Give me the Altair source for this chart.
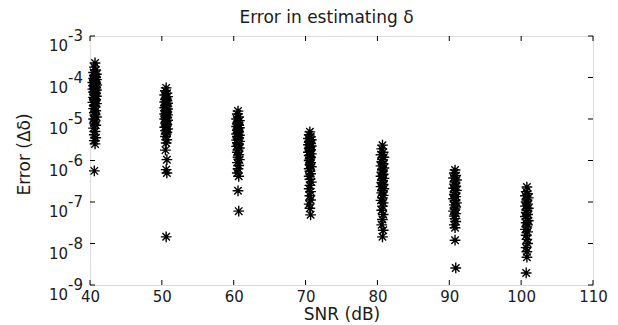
import altair as alt
import pandas as pd

# (SNR position, log10 of error)
points_40 = [(40.7,-3.65),(40.6,-3.75),(40.8,-3.82),(40.5,-3.88),(40.9,-3.92),(40.6,-3.95),(40.7,-3.98),(40.8,-4.00),(40.5,-4.02),(40.9,-4.05),(40.6,-4.07),(40.7,-4.10),(40.4,-4.12),(40.8,-4.14),(40.6,-4.16),(40.9,-4.18),(40.5,-4.20),(40.7,-4.22),(40.8,-4.24),(40.6,-4.26),(40.4,-4.28),(40.9,-4.30),(40.7,-4.32),(40.5,-4.35),(40.8,-4.38),(40.6,-4.40),(40.7,-4.42),(40.9,-4.45),(40.5,-4.48),(40.6,-4.50),(40.8,-4.53),(40.7,-4.56),(40.4,-4.60),(40.9,-4.63),(40.6,-4.67),(40.7,-4.70),(40.5,-4.75),(40.8,-4.80),(40.6,-4.85),(40.7,-4.90),(40.9,-4.95),(40.5,-5.00),(40.7,-5.05),(40.6,-5.10),(40.8,-5.15),(40.5,-5.22),(40.7,-5.30),(40.6,-5.38),(40.8,-5.45),(40.6,-5.52),(40.7,-5.60),(40.6,-6.25)]
points_50 = [(50.6,-4.25),(50.5,-4.32),(50.7,-4.38),(50.4,-4.42),(50.8,-4.46),(50.6,-4.50),(50.5,-4.53),(50.7,-4.56),(50.4,-4.59),(50.8,-4.62),(50.6,-4.65),(50.5,-4.68),(50.7,-4.70),(50.4,-4.73),(50.8,-4.76),(50.6,-4.78),(50.5,-4.80),(50.7,-4.83),(50.6,-4.86),(50.4,-4.88),(50.8,-4.90),(50.5,-4.93),(50.7,-4.96),(50.6,-4.98),(50.4,-5.00),(50.8,-5.03),(50.6,-5.06),(50.5,-5.10),(50.7,-5.13),(50.6,-5.17),(50.4,-5.20),(50.8,-5.24),(50.5,-5.28),(50.7,-5.32),(50.6,-5.36),(50.5,-5.42),(50.7,-5.50),(50.6,-5.58),(50.5,-5.75),(50.7,-5.98),(50.6,-6.22),(50.7,-6.30),(50.6,-7.84)]
points_60 = [(60.6,-4.81),(60.5,-4.88),(60.7,-4.95),(60.4,-5.00),(60.8,-5.04),(60.6,-5.08),(60.5,-5.12),(60.7,-5.15),(60.4,-5.18),(60.8,-5.21),(60.6,-5.24),(60.5,-5.27),(60.7,-5.30),(60.6,-5.33),(60.4,-5.36),(60.8,-5.39),(60.5,-5.42),(60.7,-5.45),(60.6,-5.48),(60.4,-5.51),(60.8,-5.54),(60.5,-5.57),(60.7,-5.60),(60.6,-5.63),(60.4,-5.66),(60.8,-5.70),(60.6,-5.75),(60.5,-5.80),(60.7,-5.86),(60.6,-5.92),(60.8,-5.98),(60.5,-6.05),(60.7,-6.12),(60.6,-6.20),(60.5,-6.30),(60.7,-6.38),(60.6,-6.73),(60.7,-7.22)]
points_70 = [(70.6,-5.31),(70.5,-5.38),(70.7,-5.43),(70.4,-5.47),(70.8,-5.50),(70.6,-5.53),(70.5,-5.56),(70.7,-5.59),(70.4,-5.62),(70.8,-5.65),(70.6,-5.68),(70.5,-5.71),(70.7,-5.74),(70.6,-5.77),(70.4,-5.80),(70.8,-5.84),(70.5,-5.88),(70.7,-5.92),(70.6,-5.96),(70.5,-6.00),(70.7,-6.05),(70.6,-6.10),(70.8,-6.15),(70.5,-6.20),(70.6,-6.26),(70.7,-6.32),(70.5,-6.38),(70.6,-6.45),(70.8,-6.52),(70.6,-6.60),(70.5,-6.68),(70.7,-6.75),(70.6,-6.85),(70.7,-6.95),(70.5,-7.05),(70.6,-7.15),(70.7,-7.31)]
points_80 = [(80.7,-5.63),(80.6,-5.72),(80.8,-5.80),(80.5,-5.86),(80.9,-5.92),(80.7,-5.98),(80.6,-6.03),(80.8,-6.08),(80.5,-6.13),(80.9,-6.18),(80.7,-6.23),(80.6,-6.28),(80.8,-6.33),(80.5,-6.38),(80.9,-6.43),(80.7,-6.48),(80.6,-6.53),(80.8,-6.58),(80.5,-6.63),(80.9,-6.68),(80.7,-6.73),(80.6,-6.78),(80.8,-6.84),(80.7,-6.90),(80.5,-6.96),(80.8,-7.02),(80.7,-7.10),(80.6,-7.20),(80.8,-7.30),(80.7,-7.42),(80.6,-7.55),(80.8,-7.68),(80.7,-7.84)]
points_90 = [(90.8,-6.23),(90.7,-6.30),(90.9,-6.36),(90.6,-6.42),(91.0,-6.47),(90.8,-6.52),(90.7,-6.57),(90.9,-6.62),(90.6,-6.67),(91.0,-6.72),(90.8,-6.77),(90.7,-6.82),(90.9,-6.87),(90.6,-6.92),(90.8,-6.97),(91.0,-7.02),(90.7,-7.07),(90.9,-7.12),(90.8,-7.17),(90.6,-7.22),(90.9,-7.28),(90.7,-7.34),(90.8,-7.40),(90.9,-7.47),(90.7,-7.55),(90.8,-7.62),(90.8,-7.92),(90.9,-8.59)]
points_100 = [(100.8,-6.64),(100.7,-6.75),(100.9,-6.80),(100.6,-6.85),(101.0,-6.90),(100.8,-6.95),(100.7,-7.00),(100.9,-7.05),(100.6,-7.10),(101.0,-7.15),(100.8,-7.20),(100.7,-7.25),(100.9,-7.30),(100.6,-7.35),(100.8,-7.40),(101.0,-7.45),(100.7,-7.50),(100.9,-7.55),(100.8,-7.60),(100.6,-7.66),(100.9,-7.72),(100.7,-7.80),(100.8,-7.90),(100.9,-8.00),(100.7,-8.10),(100.8,-8.20),(100.8,-8.33),(100.7,-8.71)]

x_ticks = [40, 50, 60, 70, 80, 90, 100, 110]
y_exponents = [-3, -4, -5, -6, -7, -8, -9]

all_pts = points_40 + points_50 + points_60 + points_70 + points_80 + points_90 + points_100
df = pd.DataFrame(all_pts, columns=["snr", "logerr"])
df["err"] = 10.0 ** df["logerr"]

df_xt = pd.DataFrame({"snr": x_ticks})
df_yt = pd.DataFrame({"exp": y_exponents})
df_yt["val"] = 10.0 ** df_yt["exp"].astype(float)
df_yt["lab"] = df_yt["exp"].astype(str)

W, H = 503, 249
FONT = "DejaVu Sans"
TXT = "#1a1a1a"

xs = alt.Scale(domain=[40, 110], nice=False, zero=False)
ys = alt.Scale(type="log", domain=[1e-9, 1e-3], nice=False)

ASTERISK = "M-1,0L1,0M0,-1L0,1M-0.7,-0.7L0.7,0.7M-0.7,0.7L0.7,-0.7"

pts = alt.Chart(df).mark_point(
    shape=ASTERISK, size=115, filled=False, stroke="#000", strokeWidth=1.4, opacity=1
).encode(
    x=alt.X("snr:Q", scale=xs, axis=alt.Axis(
        values=x_ticks, title="SNR (dB)", grid=False, domain=False, ticks=False,
        labelFont=FONT, labelFontSize=15, labelColor=TXT, labelPadding=4,
        titleFont=FONT, titleFontSize=17, titleFontWeight="normal", titleColor=TXT,
        titlePadding=2, labelFlush=False)),
    y=alt.Y("err:Q", scale=ys, axis=alt.Axis(
        title="Error (Δδ)", labels=False, ticks=False, domain=False, grid=False,
        titleFont=FONT, titleFontSize=17, titleFontWeight="normal", titleColor=TXT,
        titleX=-66, titleY=118, titleAngle=-90, titleAlign="center", titleBaseline="middle")),
)

tick_len = 5
xt_bot = alt.Chart(df_xt).mark_rule(color="#000", strokeWidth=1).encode(
    x=alt.X("snr:Q", scale=xs), y=alt.value(H), y2=alt.value(H - tick_len))
xt_top = alt.Chart(df_xt).mark_rule(color="#000", strokeWidth=1).encode(
    x=alt.X("snr:Q", scale=xs), y=alt.value(0), y2=alt.value(tick_len))
yt_left = alt.Chart(df_yt).mark_rule(color="#000", strokeWidth=1).encode(
    y=alt.Y("val:Q", scale=ys), x=alt.value(0), x2=alt.value(tick_len))
yt_right = alt.Chart(df_yt).mark_rule(color="#000", strokeWidth=1).encode(
    y=alt.Y("val:Q", scale=ys), x=alt.value(W), x2=alt.value(W - tick_len))

ylab_base = alt.Chart(df_yt).mark_text(
    align="right", baseline="middle", dy=10, font=FONT, fontSize=15, color=TXT
).encode(y=alt.Y("val:Q", scale=ys), x=alt.value(-22), text=alt.value("10"))
ylab_exp = alt.Chart(df_yt).mark_text(
    align="left", baseline="middle", dy=0, font=FONT, fontSize=15, color=TXT
).encode(y=alt.Y("val:Q", scale=ys), x=alt.value(-22), text="lab:N")

chart = alt.layer(pts, xt_bot, xt_top, yt_left, yt_right, ylab_base, ylab_exp).properties(
    width=W, height=H,
    title=alt.TitleParams(text="Error in estimating δ", font=FONT, fontSize=17,
                          fontWeight="normal", color=TXT, anchor="middle", offset=2, dx=-15),
    autosize=alt.AutoSizeParams(type="none"),
    padding={"left": 90, "top": 36, "right": 25, "bottom": 40},
).configure_view(stroke="#111", strokeWidth=1.5).configure(background="white")

chart.save("out.html", embed_options={"renderer": "svg", "actions": False})
